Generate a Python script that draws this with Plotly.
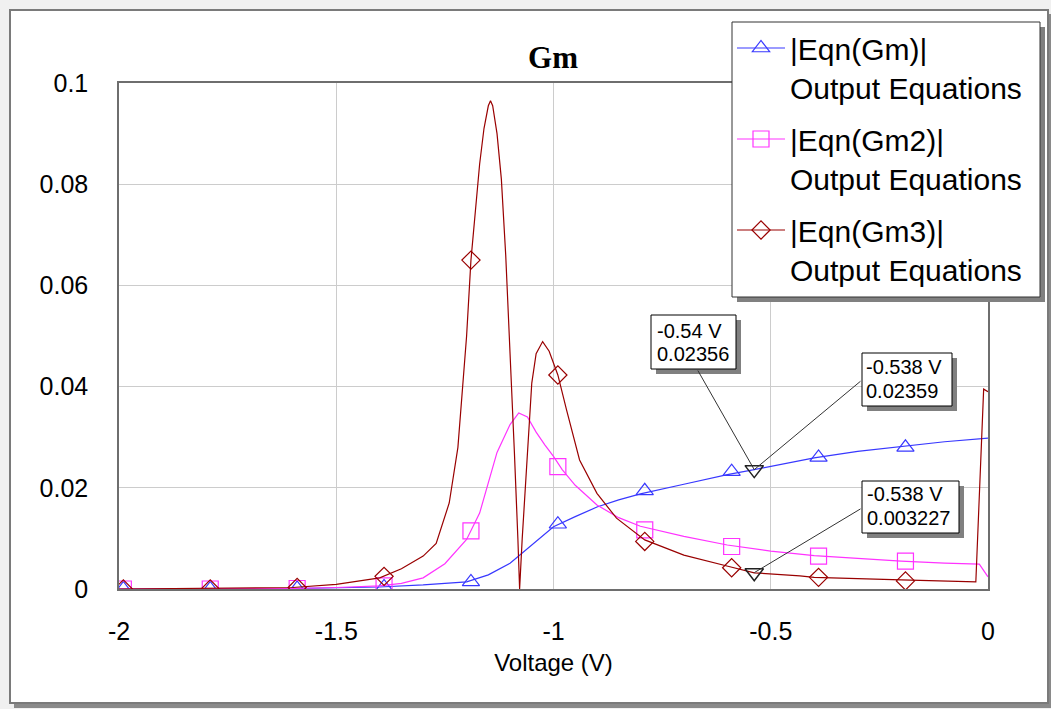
import plotly.graph_objects as go

# ---------------- data ----------------
gm_x = [-2.0, -1.6, -1.4, -1.3, -1.2, -1.15, -1.1, -1.05, -1.0, -0.95, -0.9, -0.85, -0.8,
        -0.7, -0.6, -0.538, -0.4, -0.3, -0.2, -0.1, 0.0]
gm_y = [0.0, 0.0001, 0.0004, 0.0008, 0.0014, 0.0028, 0.0051, 0.0087, 0.0123, 0.0143, 0.0162,
        0.0176, 0.0188, 0.0207, 0.0226, 0.02359, 0.0259, 0.0272, 0.0282, 0.0291, 0.0298]

gm2_x = [-2.0, -1.6, -1.5, -1.4, -1.35, -1.3, -1.25, -1.2, -1.17, -1.15, -1.13, -1.1, -1.08,
         -1.06, -1.04, -1.02, -1.0, -0.98, -0.95, -0.9, -0.85, -0.8, -0.7, -0.6, -0.5, -0.4,
         -0.3, -0.2, -0.1, -0.02, 0.0]
gm2_y = [0.0, 0.0001, 0.0003, 0.0006, 0.0011, 0.0022, 0.005, 0.0098, 0.015, 0.021, 0.027,
         0.0325, 0.0348, 0.034, 0.031, 0.0285, 0.0262, 0.0236, 0.0205, 0.0166, 0.0141, 0.0124,
         0.0104, 0.0087, 0.0075, 0.0066, 0.006, 0.0055, 0.0051, 0.0049, 0.0024]

gm3_x = [-2.0, -1.8, -1.6, -1.5, -1.45, -1.4, -1.35, -1.3, -1.27, -1.24, -1.22, -1.2, -1.19,
         -1.18, -1.17, -1.16, -1.15, -1.145, -1.14, -1.13, -1.12, -1.11, -1.1, -1.09, -1.082,
         -1.078, -1.072, -1.062, -1.05, -1.04, -1.025, -1.01, -0.99, -0.97, -0.94, -0.9,
         -0.855, -0.79, -0.7, -0.594, -0.538, -0.433, -0.4, -0.2, -0.028, -0.01, 0.0]
gm3_y = [0.0, 0.0001, 0.0003, 0.0009, 0.0015, 0.0022, 0.004, 0.0065, 0.009, 0.017, 0.028,
         0.05, 0.065, 0.075, 0.084, 0.091, 0.0955, 0.0965, 0.0955, 0.09, 0.081, 0.066, 0.048,
         0.027, 0.01, 0.0, 0.01, 0.0242, 0.0407, 0.0465, 0.0489, 0.047, 0.0423, 0.0354,
         0.0255, 0.0189, 0.014, 0.0097, 0.0067, 0.0044, 0.0032, 0.0026, 0.0023, 0.0018,
         0.0014, 0.0395, 0.039]

mk_x = [-1.99, -1.79, -1.59, -1.39, -1.19, -0.99, -0.79, -0.59, -0.39, -0.19]
gm_mk = [0.0, 0.0, 0.0001, 0.0004, 0.0014, 0.0128, 0.0194, 0.0232, 0.026, 0.028]
gm2_mk = [0.0, 0.0, 0.0001, 0.0006, 0.0115, 0.0242, 0.0117, 0.0084, 0.0065, 0.0055]
gm3_mk = [0.0, 0.0, 0.0003, 0.0025, 0.065, 0.0423, 0.0094, 0.0042, 0.0023, 0.0016]

cursor_x = [-0.538, -0.538]
cursor_y = [0.02359, 0.003227]

series_names = ["|Eqn(Gm)|<br>Output Equations", "|Eqn(Gm2)|<br>Output Equations",
                "|Eqn(Gm3)|<br>Output Equations"]
readout_lines = [("-0.54 V", "0.02356"), ("-0.538 V", "0.02359"), ("-0.538 V", "0.003227")]
x_ticks = [-2, -1.5, -1, -0.5, 0]
x_tick_text = ["-2", "-1.5", "-1", "-0.5", "0"]
y_ticks = [0, 0.02, 0.04, 0.06, 0.08, 0.1]
y_tick_text = ["0", "0.02", "0.04", "0.06", "0.08", "0.1"]

# ---------------- layout geometry (pixels) ----------------
W, H = 1051, 709
L, R, T, B = 119, 988, 83, 589


def px(x):
    return (x - L) / (R - L)


def py(y):
    return (B - y) / (B - T)


def rect(x0, y0, x1, y1, fill, layer, line=None):
    return dict(type="rect", xref="paper", yref="paper", x0=px(x0), x1=px(x1),
                y0=py(y1), y1=py(y0), fillcolor=fill,
                line=line if line else dict(width=0), layer=layer)


FONT = "Arial, Liberation Sans, sans-serif"
colors = ["#3838ff", "#ff33ff", "#990000"]
symbols = ["triangle-up-open", "square-open", "diamond-open"]
msizes = [15, 16, 14]

fig = go.Figure()
curves = [(gm_x, gm_y, gm_mk), (gm2_x, gm2_y, gm2_mk), (gm3_x, gm3_y, gm3_mk)]
for i, (cx, cy, mk) in enumerate(curves):
    fig.add_trace(go.Scatter(x=cx, y=cy, mode="lines", line=dict(color=colors[i], width=1.2),
                             showlegend=False, legendgroup=f"g{i}", hoverinfo="skip"))
    fig.add_trace(go.Scatter(x=mk_x, y=mk, mode="markers",
                             marker=dict(symbol=symbols[i], size=msizes[i], color=colors[i],
                                         line=dict(width=1.2, color=colors[i])),
                             showlegend=False, legendgroup=f"g{i}"))
    fig.add_trace(go.Scatter(x=[None], y=[None], mode="lines+markers", name=series_names[i],
                             line=dict(color=colors[i], width=1.2),
                             marker=dict(symbol=symbols[i], size=msizes[i], color=colors[i],
                                         line=dict(width=1.2, color=colors[i])),
                             legendgroup=f"g{i}"))

fig.add_trace(go.Scatter(x=cursor_x, y=cursor_y, mode="markers", showlegend=False,
                         marker=dict(symbol="triangle-down-open", size=16, color="#222222",
                                     line=dict(width=1.5, color="#222222"))))

shapes = []
# outer frame + its shadow
shapes.append(rect(14, 14, 1051, 708, "#8a8a8a", "below"))
shapes.append(rect(10, 10, 1048, 703, "white", "below", dict(color="#7a7a7a", width=2)))

# cursor readout boxes (pixels): box, arrow tail point on box edge, text left x, line ys
boxes = [(651, 315, 736, 369), (862, 353, 952, 406), (862, 481, 959, 533)]
tails = [(697, 369), (862, 380), (862, 508)]
text_pos = [(656, 331, 354), (865, 367, 391), (866, 494, 518)]
readout_pts = [(cursor_x[0], cursor_y[0]), (cursor_x[0], cursor_y[0]),
               (cursor_x[1], cursor_y[1])]
x_scale = (R - L) / 2.0
y_scale = (B - T) / 0.1
ann_font = dict(family=FONT, size=20, color="black")
for (x0, y0, x1, y1), (tx, ty), (lx, l1, l2), (x, y), (t1, t2) in zip(
        boxes, tails, text_pos, readout_pts, readout_lines):
    shapes.append(rect(x0 + 5, y0 + 5, x1 + 5, y1 + 5, "#808080", "above"))
    shapes.append(rect(x0, y0, x1, y1, "white", "above", dict(color="black", width=1)))
    ptx = L + (x + 2.0) * x_scale
    pty = B - y * y_scale
    fig.add_annotation(x=x, y=y, text="", showarrow=True, arrowhead=0, arrowwidth=1,
                       arrowcolor="#333333", ax=tx - ptx, ay=ty - pty, axref="pixel",
                       ayref="pixel", standoff=0, startstandoff=0)
    for txt, ly in ((t1, l1), (t2, l2)):
        fig.add_annotation(x=px(lx), y=py(ly), xref="paper", yref="paper", text=txt,
                           showarrow=False, xanchor="left", yanchor="middle",
                           font=ann_font, borderpad=0)

# legend frame (shadow + white box with border), legend itself is transparent
shapes.append(rect(737, 27, 1045, 302, "#808080", "above"))
shapes.append(rect(732, 22, 1040, 297, "white", "above", dict(color="#333333", width=1)))

fig.update_layout(
    width=W, height=H,
    margin=dict(l=L, r=W - R, t=T, b=H - B),
    paper_bgcolor="#f0f0f0", plot_bgcolor="white",
    font=dict(family=FONT, size=25, color="black"),
    title=dict(text="<b>Gm</b>", x=px(553), xref="paper", y=1 - 57 / H, yref="container",
               xanchor="center", yanchor="middle",
               font=dict(family="Times New Roman, Liberation Serif, serif", size=31,
                         color="black")),
    xaxis=dict(range=[-2, 0], tickvals=x_ticks, ticktext=x_tick_text, showgrid=True,
               gridcolor="#cccccc", gridwidth=1, zeroline=False, showline=True, mirror=True,
               linecolor="#6e6e6e", linewidth=1.5, ticks="", ticklabelstandoff=19,
               title=dict(text="Voltage (V)", standoff=10, font=dict(size=24))),
    yaxis=dict(range=[0, 0.1], tickvals=y_ticks, ticktext=y_tick_text, showgrid=True,
               gridcolor="#cccccc", gridwidth=1, zeroline=False, showline=True, mirror=True,
               linecolor="#6e6e6e", linewidth=1.5, ticks="", ticklabelstandoff=24),
    legend=dict(x=px(732), y=py(22), xanchor="left", yanchor="top",
                bgcolor="rgba(0,0,0,0)", borderwidth=0, font=dict(family=FONT, size=30),
                valign="top", tracegroupgap=10, itemwidth=48),
    shapes=shapes,
    showlegend=True,
)

fig.write_html("out.html")
